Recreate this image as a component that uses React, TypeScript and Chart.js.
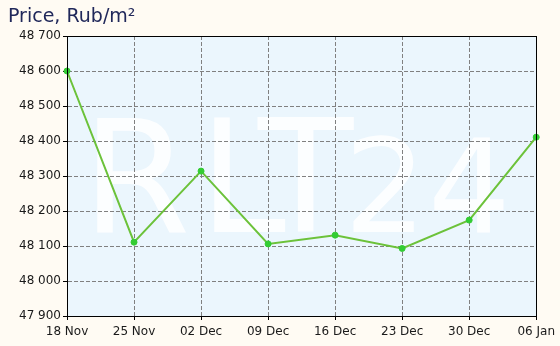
import React, { useEffect, useRef } from "react";
import { Chart, registerables } from "chart.js";

Chart.register(...registerables);

const categories = ["18 Nov", "25 Nov", "02 Dec", "09 Dec", "16 Dec", "23 Dec", "30 Dec", "06 Jan"];
const prices = [48600, 48111, 48314, 48106, 48131, 48093, 48174, 48411];
const yMin = 47900;
const yMax = 48700;
const yStep = 100;
const titleText = "Price, Rub/m²";
const watermarkText = "RLT24";

const fmt = (v: number) => {
  const s = String(Math.round(v));
  return s.replace(/\B(?=(\d{3})+(?!\d))/g, " ");
};

const bgPlugin = {
  id: "bgPlugin",
  beforeDraw(chart: any) {
    const { ctx, chartArea: a, width, height } = chart;
    ctx.save();
    ctx.fillStyle = "#fffbf3";
    ctx.fillRect(0, 0, width, height);
    ctx.fillStyle = "#ebf6fd";
    ctx.fillRect(a.left, a.top, a.right - a.left, a.bottom - a.top);
    ctx.fillStyle = "rgba(255,255,255,0.85)";
    ctx.textBaseline = "alphabetic";
    ctx.textAlign = "left";
    // watermark glyphs placed individually (tight kerning like the original)
    const glyphs = watermarkText.split("");
    const offs = [15, 132, 191, 277, 361];
    const sizes = [156, 156, 156, 130, 130];
    glyphs.forEach((g, i) => {
      ctx.font = `${sizes[i]}px "DejaVu Sans"`;
      ctx.fillText(g, a.left + offs[i], 232);
    });
    ctx.fillStyle = "#20285a";
    ctx.font = '19px "DejaVu Sans"';
    ctx.fillText(titleText, 8, 22);
    ctx.restore();
  },
  afterDraw(chart: any) {
    const { ctx, chartArea: a } = chart;
    ctx.save();
    ctx.strokeStyle = "#000";
    ctx.lineWidth = 1;
    ctx.strokeRect(Math.round(a.left) + 0.5, Math.round(a.top) + 0.5, Math.round(a.right - a.left), Math.round(a.bottom - a.top));
    ctx.restore();
  },
};

export default function App() {
  const ref = useRef<HTMLCanvasElement>(null);
  useEffect(() => {
    if (!ref.current) return;
    const chart = new Chart(ref.current, {
      type: "line",
      data: {
        labels: categories,
        datasets: [
          {
            data: prices,
            borderColor: "#6cc23a",
            borderWidth: 2,
            pointBackgroundColor: "#33cc33",
            pointBorderColor: "#33cc33",
            pointRadius: 3,
            pointBorderWidth: 1,
            tension: 0,
            fill: false,
          },
        ],
      },
      options: {
        responsive: false,
        animation: false,
        layout: { padding: { top: 36, right: 23, left: 0, bottom: 0 } },
        plugins: { legend: { display: false }, tooltip: { enabled: false }, title: { display: false } },
        scales: {
          x: {
            type: "category",
            offset: false,
            grid: {
              color: "#808080",
              tickColor: "#000",
              tickBorderDash: [],
              tickLength: 4,
              drawTicks: true,
            } as any,
            border: { display: true, color: "#000", width: 1, dash: [4, 2] } as any,
            ticks: {
              color: "#1a1a1a",
              font: { family: "DejaVu Sans", size: 12 },
              padding: 5,
              maxRotation: 0,
              autoSkip: false,
            },
            afterFit: (s: any) => {
              s.height = 30;
            },
          },
          y: {
            min: yMin,
            max: yMax,
            grid: {
              color: "#808080",
              tickColor: "#000",
              tickLength: 4,
              drawTicks: true,
              tickBorderDash: [],
            } as any,
            border: { display: true, color: "#000", width: 1, dash: [4, 2] } as any,
            ticks: {
              stepSize: yStep,
              color: "#1a1a1a",
              font: { family: "DejaVu Sans", size: 12 },
              padding: 2,
              callback: (v: any) => fmt(Number(v)),
            },
            afterFit: (s: any) => {
              s.width = 67;
            },
          },
        },
      },
      plugins: [bgPlugin],
    });
    return () => chart.destroy();
  }, []);
  return (
    <div style={{ position: "fixed", left: 0, top: 0, width: 560, height: 346 }}>
      <canvas ref={ref} width={560} height={346} />
    </div>
  );
}
